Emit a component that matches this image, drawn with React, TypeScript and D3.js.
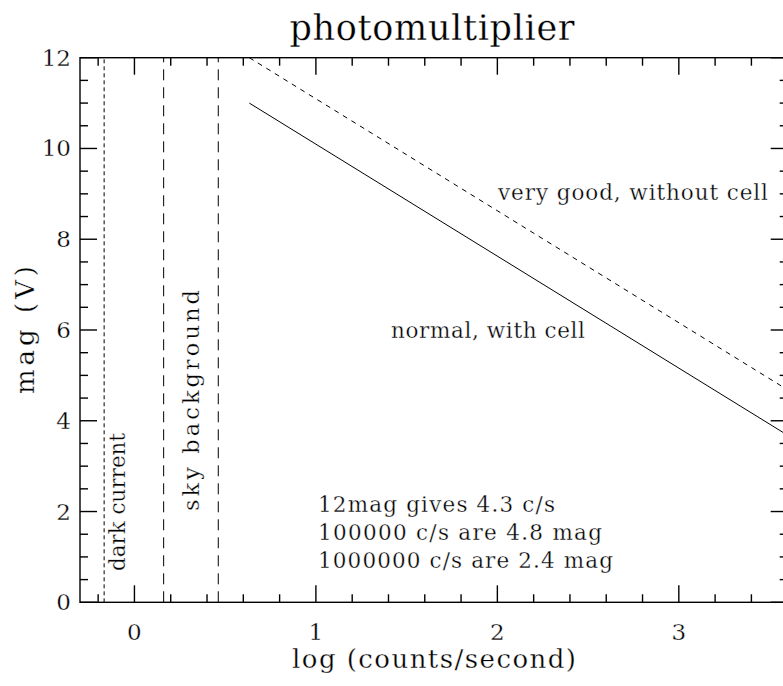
import React from "react";
import * as d3 from "d3";

// ---- data ----
const xDomain = [-0.3, 3.6];
const yDomain = [0, 12];
const xTickLabels = [0, 1, 2, 3];
const yTickLabels = [0, 2, 4, 6, 8, 10, 12];
const xMinorStep = 0.2;
const yMinorStep = 0.5;

const darkCurrentX = [-0.167];
const skyBackgroundX = [0.161, 0.462];

// "normal, with cell" (solid) and "very good, without cell" (dashed)
const normalLogCounts = [0.633, 3.6];
const normalMag = [11.0, 3.68];
const veryGoodLogCounts = [0.633, 3.6];
const veryGoodMag = [12.0, 4.68];

const notes = ["12mag gives 4.3 c/s", "100000 c/s are 4.8 mag", "1000000 c/s are 2.4 mag"];
const noteWidths = [237, 284, 295];

const FONT = "'DejaVu Serif', serif";
const thin = { stroke: "#fff", strokeWidth: 0.3 };

export default function App() {
  const W = 783, H = 686;
  const left = 80, right = 787.7, top = 57.7, bottom = 602.3;
  const x = d3.scaleLinear().domain(xDomain).range([left, right]);
  const y = d3.scaleLinear().domain(yDomain).range([bottom, top]);

  const xMinor = d3.range(Math.ceil(xDomain[0] / xMinorStep), Math.floor(xDomain[1] / xMinorStep + 1e-6) + 1).map(i => +(i * xMinorStep).toFixed(6));
  const yMinor = d3.range(Math.ceil(yDomain[0] / yMinorStep), Math.floor(yDomain[1] / yMinorStep + 1e-6) + 1).map(i => +(i * yMinorStep).toFixed(6));
  const isXMajor = (v: number) => Math.abs(v - Math.round(v)) < 1e-6;
  const isYMajor = (v: number) => Math.abs(v / 2 - Math.round(v / 2)) < 1e-6;
  const MAJ = 17, MIN = 8;

  const line = d3.line<[number, number]>().x(d => x(d[0])).y(d => y(d[1]));
  const normalPts = normalLogCounts.map((v, i) => [v, normalMag[i]] as [number, number]);
  const goodPts = veryGoodLogCounts.map((v, i) => [v, veryGoodMag[i]] as [number, number]);

  return (
    <svg width={W} height={H} style={{ position: "absolute", left: 0, top: 0, background: "#fff" }} fontFamily={FONT}>
      <rect x={0} y={0} width={W} height={H} fill="#fff" />
      <defs>
        <clipPath id="plot">
          <rect x={left} y={top} width={right - left} height={bottom - top} />
        </clipPath>
      </defs>

      {/* title */}
      <text x={432} y={40} fontSize={35} textAnchor="middle" textLength={285} lengthAdjust="spacing" {...thin}>photomultiplier</text>

      {/* frame */}
      <rect x={left} y={top} width={right - left} height={bottom - top} fill="none" stroke="#000" strokeWidth={1.4} />

      {/* x ticks bottom and top */}
      {xMinor.map(v => {
        const len = isXMajor(v) ? MAJ : MIN;
        return (
          <g key={"xt" + v} stroke="#000" strokeWidth={1.4}>
            <line x1={x(v)} x2={x(v)} y1={bottom} y2={bottom - len} />
            <line x1={x(v)} x2={x(v)} y1={top} y2={top + len} />
          </g>
        );
      })}
      {/* y ticks left and right */}
      {yMinor.map(v => {
        const len = isYMajor(v) ? MAJ : MIN;
        return (
          <g key={"yt" + v} stroke="#000" strokeWidth={1.4}>
            <line x1={left} x2={left + len} y1={y(v)} y2={y(v)} />
            <line x1={right} x2={right - len} y1={y(v)} y2={y(v)} />
          </g>
        );
      })}

      {/* tick labels */}
      {xTickLabels.map(v => (
        <text key={"xl" + v} x={x(v)} y={640} fontSize={23} textAnchor="middle" {...thin}>{v}</text>
      ))}
      {yTickLabels.map(v => (
        <text key={"yl" + v} x={71} y={y(v) + 8} fontSize={23} textAnchor="end" {...thin}>{v}</text>
      ))}

      {/* axis labels */}
      <text x={434} y={668} fontSize={26} textAnchor="middle" textLength={284} lengthAdjust="spacing" {...thin}>log (counts/second)</text>
      <text transform={`translate(34,330) rotate(-90)`} fontSize={26} textAnchor="middle" textLength={128} lengthAdjust="spacing" {...thin}>mag (V)</text>

      <g clipPath="url(#plot)">
        {/* vertical reference lines */}
        {darkCurrentX.map(v => (
          <line key={"dc" + v} x1={x(v)} x2={x(v)} y1={y(yDomain[0])} y2={y(yDomain[1])} stroke="#000" strokeWidth={1} strokeDasharray="4,3" />
        ))}
        {skyBackgroundX.map(v => (
          <line key={"sb" + v} x1={x(v)} x2={x(v)} y1={y(yDomain[0])} y2={y(yDomain[1])} stroke="#000" strokeWidth={1} strokeDasharray="11,7" />
        ))}
        {/* data lines */}
        <path d={line(normalPts) || ""} fill="none" stroke="#000" strokeWidth={1} />
        <path d={line(goodPts) || ""} fill="none" stroke="#000" strokeWidth={1} strokeDasharray="5,5" />
      </g>

      {/* annotations */}
      <text transform={`translate(125,571) rotate(-90)`} fontSize={22} textLength={138} lengthAdjust="spacingAndGlyphs" {...thin}>dark current</text>
      <text transform={`translate(199,511) rotate(-90)`} fontSize={22.5} textLength={221} lengthAdjust="spacing" {...thin}>sky background</text>
      <text x={391} y={337.5} fontSize={21.5} textLength={194} lengthAdjust="spacing" {...thin}>normal, with cell</text>
      <text x={498} y={200} fontSize={21.5} textLength={270} lengthAdjust="spacing" {...thin}>very good, without cell</text>
      {notes.map((t, i) => (
        <text key={t} x={318} y={512 + i * 28} fontSize={21.5} textLength={noteWidths[i]} lengthAdjust="spacing" {...thin}>{t}</text>
      ))}
    </svg>
  );
}
